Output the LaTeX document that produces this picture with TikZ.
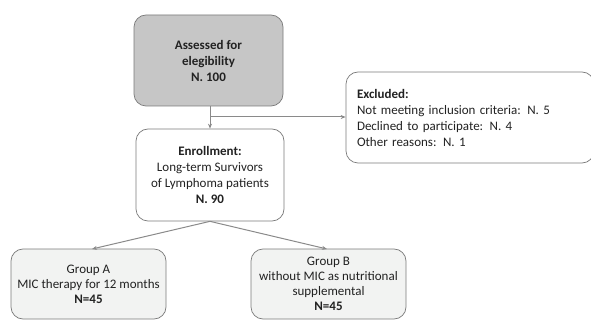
\documentclass[tikz,border=0pt]{standalone}
\usepackage{fontspec}
\setmainfont{Carlito}
\usetikzlibrary{arrows.meta}
\definecolor{bordergray}{HTML}{7A7A7A}
\definecolor{darkfill}{HTML}{C6C6C6}
\definecolor{lightfill}{HTML}{F2F3F2}
\definecolor{linegray}{HTML}{8A8A8A}
\definecolor{txt}{HTML}{222222}
\tikzset{
  box/.style={draw=bordergray, line width=0.7pt, rounded corners=12pt, inner sep=0pt, align=center, text=txt, font=\fontsize{13}{16}\selectfont},
  conn/.style={draw=linegray, line width=1pt, -{Stealth[length=5pt,width=4pt]}},
}
\begin{document}
\begin{tikzpicture}[x=1pt,y=-1pt]
\useasboundingbox (0,0) rectangle (591,320);
\node[box, fill=darkfill, minimum width=149pt, minimum height=91pt] (assess) at (208.5,60.5) {\textbf{Assessed for}\\\textbf{elegibility}\\\textbf{N. 100}};
\node[box, fill=white, minimum width=148pt, minimum height=92pt] (enrol) at (210,175) {\textbf{Enrollment:}\\Long-term Survivors\\of Lymphoma patients\\\textbf{N. 90}};
\node[box, fill=white, minimum width=248pt, minimum height=91pt, align=left, text width=226pt] (excl) at (470,117.5) {\textbf{Excluded:}\\Not meeting inclusion criteria: N. 5\\Declined to participate: N. 4\\Other reasons: N. 1};
\node[box, fill=lightfill, minimum width=155pt, minimum height=70pt, font=\fontsize{13}{15}\selectfont] (ga) at (88.5,284) {Group A\\MIC therapy for 12 months\\\textbf{N=45}};
\node[box, fill=lightfill, minimum width=155pt, minimum height=70pt, font=\fontsize{13}{15}\selectfont] (gb) at (328.5,284) {Group B\\without MIC as nutritional\\supplemental\\\textbf{N=45}};
\coordinate (j) at (210,117);
\draw[conn] (assess.south -| j) -- (enrol.north);
\draw[conn] (j) -- (excl.west |- j);
\draw[conn] (enrol.south) -- (92,249);
\draw[conn] (enrol.south) -- (327,249);
\end{tikzpicture}
\end{document}
